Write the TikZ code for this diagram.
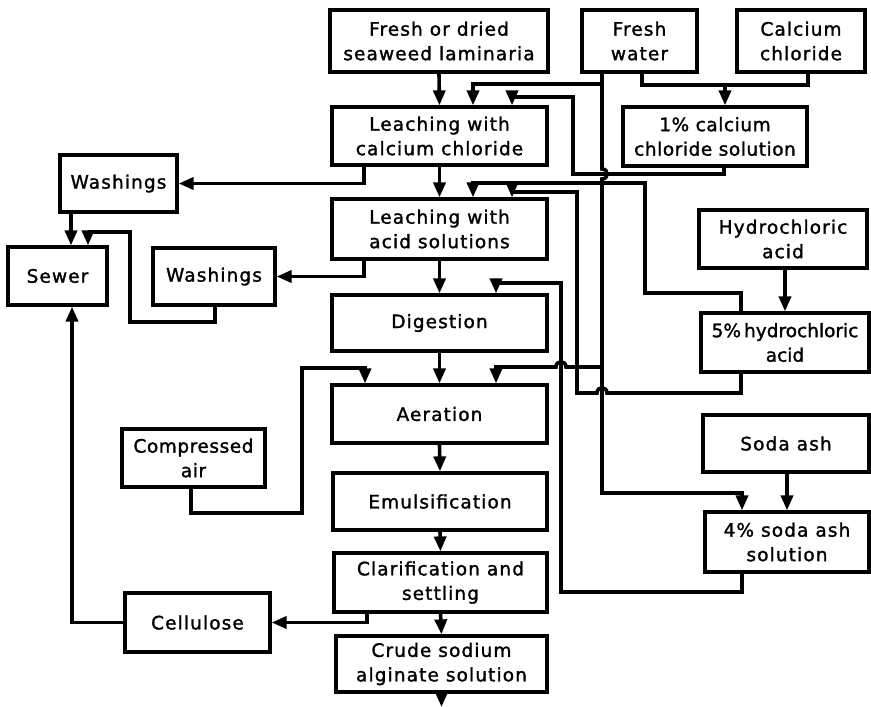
\documentclass[tikz,border=0pt]{standalone}
\usepackage{fontspec}
\setmainfont{DejaVu Sans}[LetterSpace=6,FakeBold=1.5]
\usetikzlibrary{arrows.meta}
\begin{document}
\begin{tikzpicture}[x=1pt,y=-1pt,line join=miter,
  box/.style={draw,line width=3.2pt,inner sep=0pt,align=center,font=\fontsize{18.5}{24.5}\selectfont},
  tight/.style={font=\fontsize{18.5}{24.5}\selectfont\addfontfeature{LetterSpace=0}},
  semitight/.style={font=\fontsize{18.5}{24.5}\selectfont\addfontfeature{LetterSpace=3}},
  pipe/.style={line width=3.6pt},
  flow/.style={pipe,-{Triangle[length=15pt,width=12pt]}}]
\useasboundingbox (0,0) rectangle (871,707);
\foreach \v in {71,72,88,130,191,215,302,364,365,367,473,496,512,561,573,577,602,642,645,724,725,741,742,785,787,808}
  \coordinate (x\v) at (\v,0);
% nodes
\node[box,minimum width=218pt,minimum height=62pt] (seaweed) at (439,41) {Fresh or dried\\seaweed laminaria};
\node[box,minimum width=115pt,minimum height=62pt] (freshwater) at (639.5,41) {Fresh\\water};
\node[box,minimum width=128pt,minimum height=62pt] (cacl) at (801,41) {Calcium\\chloride};
\node[box,minimum width=215pt,minimum height=58pt] (leachCa) at (439.5,136) {Leaching with\\calcium chloride};
\node[box,semitight,minimum width=184pt,minimum height=59pt] (onepct) at (715,136.5) {1\% calcium\\chloride solution};
\node[box,minimum width=117pt,minimum height=57pt] (wash1) at (118.5,183.5) {Washings};
\node[box,minimum width=99pt,minimum height=58pt] (sewer) at (57.5,276) {Sewer};
\node[box,minimum width=122pt,minimum height=57pt] (wash2) at (214,276.5) {Washings};
\node[box,minimum width=215pt,minimum height=60pt] (leachAc) at (439.5,229) {Leaching with\\acid solutions};
\node[box,minimum width=168pt,minimum height=58pt] (hcl) at (783,239) {Hydrochloric\\acid};
\node[box,minimum width=215pt,minimum height=56pt] (digestion) at (439.5,323) {Digestion};
\node[box,tight,minimum width=168pt,minimum height=59pt] (fivepct) at (785,342.5) {5\%\,hydrochloric\\acid};
\node[box,minimum width=215pt,minimum height=58pt] (aeration) at (439.5,414) {Aeration};
\node[box,semitight,minimum width=143pt,minimum height=58pt] (comp) at (193.5,458) {Compressed\\air};
\node[box,minimum width=166pt,minimum height=57pt] (soda) at (786,443.5) {Soda ash};
\node[box,minimum width=214pt,minimum height=57pt] (emul) at (440,501.5) {Emulsification};
\node[box,minimum width=164pt,minimum height=60pt] (fourpct) at (787,542) {4\% soda ash\\solution};
\node[box,minimum width=213pt,minimum height=59pt] (clar) at (440.5,582.5) {Clarification and\\settling};
\node[box,minimum width=145pt,minimum height=59pt] (cellulose) at (197.5,622.5) {Cellulose};
\node[box,minimum width=211pt,minimum height=56pt] (crude) at (441.5,664) {Crude sodium\\alginate solution};
\coordinate (out) at (441.5,707);
% main column
\draw[flow] (seaweed.south) -- (leachCa.north);
\draw[flow] (leachCa.south) -- (leachAc.north);
\draw[flow] (leachAc.south) -- (digestion.north);
\draw[flow] (digestion.south) -- (aeration.north);
\draw[flow] (aeration.south) -- (emul.north);
\draw[flow] (emul.south) -- (clar.north);
\draw[flow] (clar.south) -- (crude.north);
\draw[flow] (crude.south) -- (out);
% fresh water
\draw[flow] (x602 |- freshwater.south) -- (602,84) -- (473,84) -- (x473 |- leachCa.north);
\draw[flow] (602,84) -- (602,169) .. controls (609,169) and (609,179) .. (602,179)
  -- (602,493) -- (742,493) -- (x742 |- fourpct.north);
\draw[pipe] (x642 |- freshwater.south) -- (642,85) -- (808,85) -- (x808 |- cacl.south);
\draw[flow] (725,85) -- (x725 |- onepct.north);
\draw[flow] (602,367) -- (577,367) -- (577,192) -- (512,192) -- (x512 |- leachAc.north);
% 1% calcium chloride to leaching
\draw[flow] (x724 |- onepct.south) -- (724,174) -- (573,174) -- (573,97) -- (512,97) -- (x512 |- leachCa.north);
% washings
\draw[flow] (x364 |- leachCa.south) -- (x364 |- wash1.east) -- (wash1.east);
\draw[flow] (x364 |- leachAc.south) -- (x364 |- wash2.east) -- (wash2.east);
\draw[flow] (x71 |- wash1.south) -- (x71 |- sewer.north);
\draw[flow] (x215 |- wash2.south) -- (215,322) -- (130,322) -- (130,232) -- (88,232) -- (x88 |- sewer.north);
% hydrochloric acid
\draw[flow] (hcl.south -| x785) -- (x785 |- fivepct.north);
\draw[flow] (x741 |- fivepct.north) -- (741,293) -- (645,293) -- (645,183) -- (473,183) -- (x473 |- leachAc.north);
\draw[flow] (x741 |- fivepct.south) -- (741,393) -- (607,393) .. controls (607,386) and (597,386) .. (597,393)
  -- (577,393) -- (577,367) -- (566,367) .. controls (566,360) and (556,360) .. (556,367)
  -- (496,367) -- (x496 |- aeration.north);
% soda ash
\draw[flow] (x787 |- soda.south) -- (x787 |- fourpct.north);
\draw[flow] (x742 |- fourpct.south) -- (742,592) -- (561,592) -- (561,283) -- (496,283) -- (x496 |- digestion.north);
% compressed air
\draw[flow] (x191 |- comp.south) -- (191,513) -- (302,513) -- (302,368) -- (365,368) -- (x365 |- aeration.north);
% cellulose
\draw[flow] (x367 |- clar.south) -- (x367 |- cellulose.east) -- (cellulose.east);
\draw[flow] (cellulose.west) -- (x72 |- cellulose.west) -- (x72 |- sewer.south);
\end{tikzpicture}
\end{document}
